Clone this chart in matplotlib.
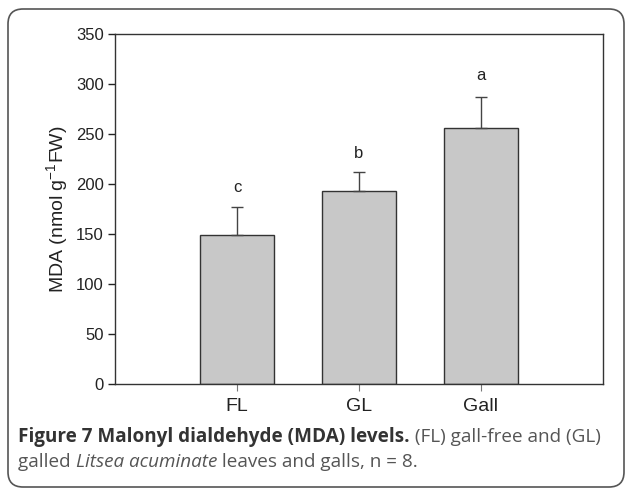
import matplotlib
matplotlib.use("Agg")
import matplotlib.pyplot as plt
from matplotlib.patches import FancyBboxPatch

# data
groups = ["FL", "GL", "Gall"]
mda = [149, 193, 256]
mda_err = [28, 19, 31]
letters = ["c", "b", "a"]
letter_y = [197, 231, 309]

plt.rcParams["font.family"] = "Liberation Sans"
plt.rcParams["mathtext.default"] = "regular"

fig = plt.figure(figsize=(6.27, 4.90), dpi=100)
ax = fig.add_axes([0.1834, 0.2163, 0.7783, 0.7143])

x = [1, 2, 3]
ax.bar(x, mda, width=0.6, color="#c8c8c8", edgecolor="#333333", linewidth=1.0, zorder=2)
ax.errorbar(x, mda, yerr=[[0, 0, 0], mda_err], fmt="none", ecolor="#444444",
            elinewidth=1.0, capsize=4.3, capthick=1.0, zorder=3)
for xi, lab, ly in zip(x, letters, letter_y):
    ax.text(xi, ly, lab, ha="center", va="center", fontsize=12, color="#222222")

ax.set_xlim(0, 4)
ax.set_ylim(0, 350)
ax.set_xticks(x)
ax.set_xticklabels(groups, fontsize=14, color="#222222")
ax.set_yticks(range(0, 351, 50))
ax.tick_params(axis="y", labelsize=12, length=5, width=1, colors="#222222", pad=3)
ax.tick_params(axis="x", length=5, width=0.8, color="#777777", pad=5)
ax.set_ylabel("MDA (nmol g$^{-1}$FW)", fontsize=14, color="#222222", labelpad=4)
for s in ax.spines.values():
    s.set_color("#333333")
    s.set_linewidth(1.0)

# rounded frame around the panel
frame = FancyBboxPatch((0.08, 0.03), 6.16, 4.78, boxstyle="round,pad=0,rounding_size=0.15",
                       transform=fig.dpi_scale_trans, fill=False, edgecolor="#555555",
                       linewidth=1.2)
fig.patches.append(frame)

# caption
cap = dict(family="Open Sans", fontsize=13.6)
t1 = fig.text(18 / 627, 1 - 437 / 490, "Figure 7 Malonyl dialdehyde (MDA) levels.",
              fontweight="bold", color="#333333", va="center", **cap)
a1 = ax.annotate(" (FL) gall-free and (GL)", xy=(1, 0.5), xycoords=t1, va="center",
                 ha="left", color="#555555", annotation_clip=False, **cap)
t2 = fig.text(18 / 627, 1 - 462 / 490, "galled ", color="#555555", va="center", **cap)
t3 = ax.annotate("Litsea acuminate", xy=(1, 0.5), xycoords=t2, va="center", ha="left",
                 style="italic", color="#555555", annotation_clip=False, **cap)
ax.annotate(" leaves and galls, n = 8.", xy=(1, 0.5), xycoords=t3, va="center", ha="left",
            color="#555555", annotation_clip=False, **cap)

fig.savefig("out.png", dpi=100)
